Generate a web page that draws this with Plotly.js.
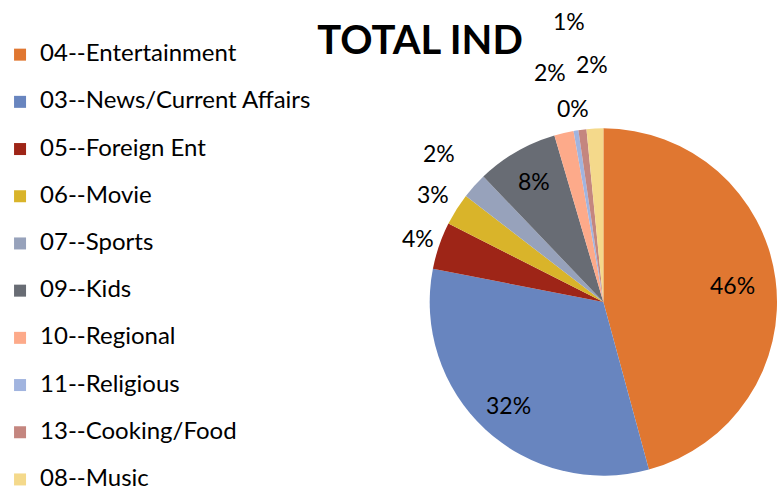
<!DOCTYPE html>
<html>
<head>
<meta charset="utf-8">
<script src="https://cdn.plot.ly/plotly-3.0.1.min.js"></script>
<style>html,body{margin:0;padding:0;background:#fff;}#chart{width:777px;height:497px;}</style>
</head>
<body>
<div id="chart"></div>
<script>
var categories = ["04--Entertainment", "03--News/Current Affairs", "05--Foreign Ent", "06--Movie", "07--Sports", "09--Kids", "10--Regional", "11--Religious", "13--Cooking/Food", "08--Music"];
var shares = [45.8, 32.3, 4.4, 3.0, 2.4, 7.6, 1.8, 0.45, 0.75, 1.55];
var colors = ["#E07731", "#6885BF", "#9E2517", "#D9B42A", "#97A2BB", "#686C74", "#FDAA8A", "#A1B4DF", "#C4867F", "#F4D98B"];
// radial placement of each percentage label, as a fraction of the pie radius
var labelRadius = [0.75, 0.80, 1.13, 1.16, 1.27, 0.80, 1.35, 1.12, 1.62, 1.36];

var W = 777, H = 497;
var dom = { x: [427 / W, 1], y: [20 / H, 370 / H] };

var legendLabels = categories.map(function (c) {
  return '&nbsp;<br><span style="font-size:24px">' + c + '</span>';
});

var trace = {
  type: "pie",
  labels: legendLabels,
  values: shares,
  sort: false,
  direction: "clockwise",
  rotation: 0,
  marker: { colors: colors, line: { width: 0 } },
  textinfo: "none",
  hoverinfo: "none",
  domain: dom,
  automargin: false
};

// percentage labels placed at each slice's mid-angle
var total = shares.reduce(function (a, b) { return a + b; }, 0);
var cx = (dom.x[0] + dom.x[1]) / 2 * W;
var cy = (1 - (dom.y[0] + dom.y[1]) / 2) * H;
var R = Math.min((dom.x[1] - dom.x[0]) * W, (dom.y[1] - dom.y[0]) * H) / 2;
var cum = 0;
var annotations = shares.map(function (v, i) {
  var mid = (cum + v / 2) / total * 2 * Math.PI;
  cum += v;
  var px = cx + R * labelRadius[i] * Math.sin(mid);
  var py = cy - R * labelRadius[i] * Math.cos(mid);
  return {
    text: Math.round(v / total * 100) + "%",
    x: px / W, y: 1 - py / H, xref: "paper", yref: "paper",
    xanchor: "center", yanchor: "middle", showarrow: false,
    font: { family: "Lato, 'Open Sans', sans-serif", size: 23, color: "#000000" }
  };
});

var layout = {
  width: W,
  height: H,
  margin: { l: 0, r: 0, t: 0, b: 0 },
  paper_bgcolor: "#ffffff",
  font: { family: "Lato, 'Open Sans', sans-serif", color: "#000000" },
  title: {
    text: "<b>TOTAL IND</b>",
    font: { family: "Lato, 'Open Sans', sans-serif", size: 40, color: "#000000" },
    x: 420 / W, xref: "container", xanchor: "center",
    y: 1 - 40 / H, yref: "container", yanchor: "middle"
  },
  showlegend: true,
  legend: {
    x: -6 / W, xanchor: "left", y: 1 - 33 / H, yanchor: "top",
    font: { family: "Lato, 'Open Sans', sans-serif", size: 17, color: "#000000" },
    valign: "bottom",
    bgcolor: "rgba(0,0,0,0)"
  },
  annotations: annotations
};

Plotly.newPlot("chart", [trace], layout, { displayModeBar: false, staticPlot: true });
</script>
</body>
</html>
